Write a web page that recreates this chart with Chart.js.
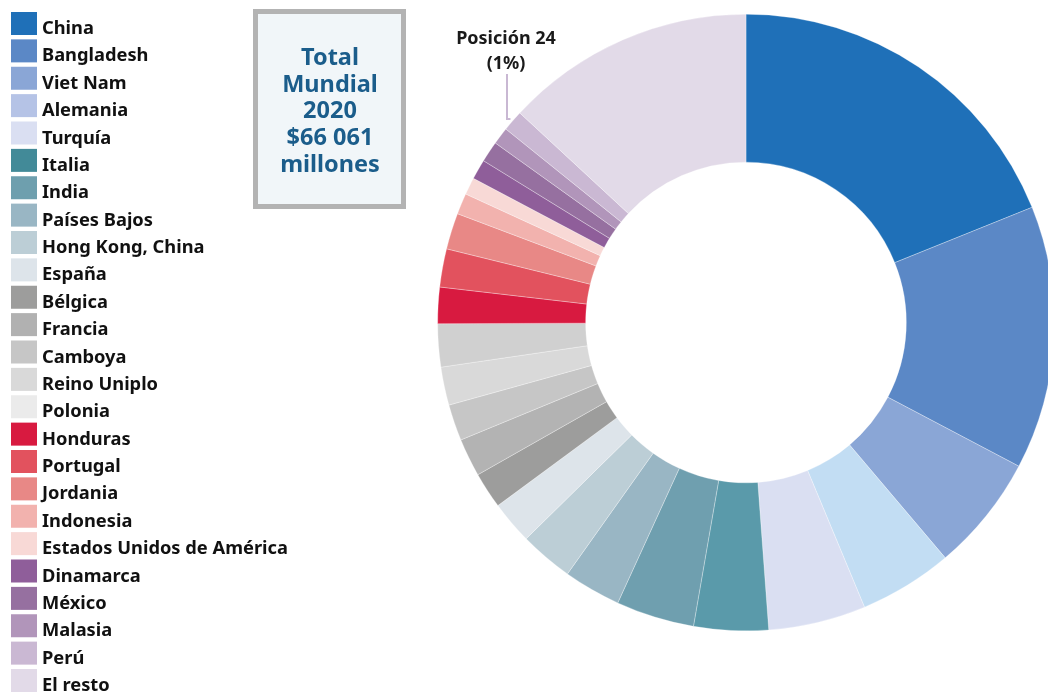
<!DOCTYPE html>
<html>
<head>
<meta charset="utf-8">
<script src="https://cdn.jsdelivr.net/npm/chart.js@4/dist/chart.umd.min.js"></script>
<style>
html,body{margin:0;padding:0;background:#fff;overflow:hidden;width:1048px;height:693px;}
canvas{position:absolute;left:0;top:0;}
</style>
</head>
<body>
<canvas id="c" width="1060" height="693"></canvas>
<script>
const categories = ['China','Bangladesh','Viet Nam','Alemania','Turquía','Italia','India','Países Bajos','Hong Kong, China','España','Bélgica','Francia','Camboya','Reino Uniplo','Polonia','Honduras','Portugal','Jordania','Indonesia','Estados Unidos de América','Dinamarca','México','Malasia','Perú','El resto'];
const shares = [18.9,13.8,6.1,4.9,5.1,3.9,4.1,3.0,2.8,2.25,1.9,2.0,1.9,2.0,2.25,1.9,2.0,1.9,1.1,0.9,1.05,1.1,0.9,1.1,13.1];
const sliceColors = ['#1F70B8','#5B88C6','#8AA6D6','#C2DDF3','#DADFF2','#5A9AAA','#6F9FAF','#99B6C4','#BCCED6','#DDE4EA','#9D9D9C','#B3B3B3','#C6C6C6','#D9D9D9','#D0D0D0','#D81A40','#E2525E','#E88886','#F2B2AE','#F8D9D6','#8F5E9A','#9670A0','#B195BA','#CAB8D3','#E2DAE8'];
const legendColors = ['#1F70B8','#5B88C6','#8AA6D6','#B5C3E6','#DADFF2','#428A98','#6E9FAE','#99B6C4','#BCCED6','#DDE4EA','#9D9D9C','#B1B1B1','#C6C6C6','#D9D9D9','#EBEBEB','#D81A40','#E2525E','#E88886','#F2B2AE','#F8D9D6','#8F5E9A','#9670A0','#B195BA','#CAB8D3','#E2DAE8'];
const boxLines = ['Total','Mundial','2020','$66 061','millones'];
const calloutLines = ['Posición 24','(1%)'];
const calloutIndex = 23;

const FONT = '"Noto Sans", sans-serif';

const decorPlugin = {
  id: 'decor',
  afterDraw(chart) {
    const ctx = chart.ctx;
    ctx.save();
    // Legend
    ctx.font = 'bold 18.3px ' + FONT;
    ctx.textBaseline = 'alphabetic';
    ctx.textAlign = 'left';
    categories.forEach((name, i) => {
      const top = 12 + i * 27.375;
      ctx.fillStyle = legendColors[i];
      ctx.fillRect(11, top, 26, 23);
      ctx.fillStyle = '#111111';
      ctx.fillText(name, 42, top + 22);
    });
    // Total box
    ctx.fillStyle = '#F1F6F9';
    ctx.fillRect(255.5, 11.5, 148, 195);
    ctx.strokeStyle = '#B3B3B3';
    ctx.lineWidth = 5;
    ctx.strokeRect(255.5, 11.5, 148, 195);
    ctx.fillStyle = '#1B5D8B';
    ctx.font = 'bold 23.5px ' + FONT;
    ctx.textAlign = 'center';
    boxLines.forEach((t, i) => ctx.fillText(t, 330, 65 + i * 26.7));
    // Callout
    const arc = chart.getDatasetMeta(0).data[calloutIndex];
    const p = arc.getProps(['x','y','startAngle','endAngle','outerRadius'], true);
    const mid = (p.startAngle + p.endAngle) / 2;
    const ex = p.x + Math.cos(mid) * (p.outerRadius + 3);
    const ey = p.y + Math.sin(mid) * (p.outerRadius + 3);
    ctx.strokeStyle = '#C9B8D3';
    ctx.lineWidth = 2;
    ctx.beginPath();
    ctx.moveTo(507, 74);
    ctx.lineTo(507, ey);
    ctx.lineTo(ex, ey);
    ctx.stroke();
    ctx.fillStyle = '#1a1a1a';
    ctx.font = 'bold 18px ' + FONT;
    ctx.fillText(calloutLines[0], 506, 44);
    ctx.fillText(calloutLines[1], 506, 69);
    ctx.restore();
  }
};

new Chart(document.getElementById('c'), {
  type: 'doughnut',
  data: {
    labels: categories,
    datasets: [{
      data: shares,
      backgroundColor: sliceColors,
      borderColor: '#ffffff',
      borderWidth: 0.3
    }]
  },
  options: {
    responsive: false,
    animation: false,
    cutout: '52%',
    layout: { padding: { left: 437.5, right: 5.5, top: 14, bottom: 62 } },
    plugins: {
      legend: { display: false },
      tooltip: { enabled: false }
    }
  },
  plugins: [decorPlugin]
});
</script>
</body>
</html>
